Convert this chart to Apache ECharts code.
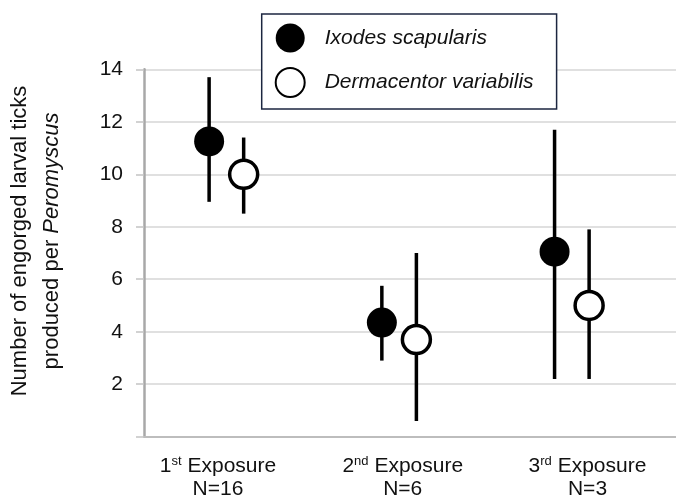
<!DOCTYPE html>
<html>
<head>
<meta charset="utf-8">
<script src="https://cdn.jsdelivr.net/npm/echarts@6/dist/echarts.min.js"></script>
<style>
  html, body { margin: 0; padding: 0; background: #fff; }
  #chart { width: 676px; height: 499px; }
</style>
</head>
<body>
<div id="chart"></div>
<script>
// exposure groups
var exposures = ['1{sup|st} Exposure\nN=16', '2{sup|nd} Exposure\nN=6', '3{sup|rd} Exposure\nN=3'];
var groupPos = [1, 2, 3];
var offset = 0.1;

// Ixodes scapularis
var ixodesMean = [11.25, 4.35, 7.05];
var ixodesLow = [8.95, 2.9, 2.2];
var ixodesHigh = [13.7, 5.75, 11.7];

// Dermacentor variabilis
var dermaMean = [10.0, 3.7, 5.0];
var dermaLow = [8.5, 0.6, 2.2];
var dermaHigh = [11.4, 7.0, 7.9];

var font = 'Liberation Sans, Arial, sans-serif';

function points(mean, shift) {
  return mean.map(function (v, i) { return [groupPos[i] + shift, v]; });
}
function bars(low, high, shift) {
  return low.map(function (v, i) { return [groupPos[i] + shift, v, high[i]]; });
}

function renderBar(params, api) {
  var x = api.value(0);
  var lo = api.coord([x, api.value(1)]);
  var hi = api.coord([x, api.value(2)]);
  return {
    type: 'line',
    shape: { x1: lo[0], y1: lo[1], x2: hi[0], y2: hi[1] },
    style: { stroke: '#000', lineWidth: 3.5 }
  };
}

var chart = echarts.init(document.getElementById('chart'));
chart.setOption({
  animation: false,
  textStyle: { fontFamily: font },
  grid: { left: 144, right: 0, top: 69.3, bottom: 62.3, containLabel: false, outerBoundsMode: 'none' },
  legend: {
    data: ['Ixodes scapularis', 'Dermacentor variabilis'],
    orient: 'vertical',
    left: 261.7,
    top: 14,
    padding: [9.5, 23, 11, 13],
    itemGap: 14.5,
    itemWidth: 29,
    itemHeight: 29,
    backgroundColor: '#fff',
    borderColor: '#1c2640',
    borderWidth: 1.5,
    textStyle: {
      fontSize: 21,
      fontStyle: 'italic',
      color: '#111',
      fontFamily: font,
      padding: [0, 0, 0, 15]
    }
  },
  xAxis: [
    {
      type: 'value',
      min: 0.523,
      max: 3.603,
      axisLine: { show: true, onZero: false, lineStyle: { color: '#bdbdbd', width: 2 } },
      axisTick: { show: false },
      axisLabel: { show: false },
      splitLine: { show: false }
    },
    {
      type: 'value',
      position: 'bottom',
      min: 0.5995,
      max: 3.479,
      axisLine: { show: false },
      axisTick: { show: false },
      splitLine: { show: false },
      axisLabel: {
        customValues: groupPos,
        margin: 18,
        fontSize: 21,
        lineHeight: 23,
        color: '#111',
        fontFamily: font,
        formatter: function (v) { return exposures[Math.round(v) - 1]; },
        rich: {
          sup: { fontSize: 13, verticalAlign: 'top', lineHeight: 19, color: '#111', fontFamily: font }
        }
      }
    }
  ],
  yAxis: {
    type: 'value',
    min: 0,
    max: 14,
    interval: 2,
    axisLine: { show: true, lineStyle: { color: '#a8a8a8', width: 2.5 } },
    axisTick: { show: true, length: 8, lineStyle: { color: '#c4c4c4', width: 1.5 } },
    splitLine: { show: true, lineStyle: { color: '#d6d6d6', width: 1.5 } },
    axisLabel: {
      margin: 21,
      fontSize: 21,
      color: '#111',
      fontFamily: font,
      formatter: function (v) { return v === 0 ? '' : String(v); }
    },
    name: 'Number of engorged larval ticks\nproduced per {i|Peromyscus}',
    nameLocation: 'middle',
    nameRotate: 90,
    nameGap: 76,
    nameTextStyle: {
      fontSize: 22,
      lineHeight: 32,
      color: '#111',
      fontFamily: font,
      padding: [0, 0, 0, 24],
      rich: {
        i: { fontSize: 22, lineHeight: 32, fontStyle: 'italic', color: '#111', fontFamily: font }
      }
    }
  },
  series: [
    {
      type: 'custom',
      xAxisIndex: 0,
      renderItem: renderBar,
      encode: { x: 0, y: [1, 2] },
      data: bars(ixodesLow, ixodesHigh, -offset),
      z: 1
    },
    {
      type: 'custom',
      xAxisIndex: 0,
      renderItem: renderBar,
      encode: { x: 0, y: [1, 2] },
      data: bars(dermaLow, dermaHigh, offset),
      z: 1
    },
    {
      name: 'Ixodes scapularis',
      type: 'scatter',
      xAxisIndex: 0,
      symbol: 'circle',
      symbolSize: 30,
      itemStyle: { color: '#000', opacity: 1 },
      data: points(ixodesMean, -offset),
      z: 3
    },
    {
      name: 'Dermacentor variabilis',
      type: 'scatter',
      xAxisIndex: 0,
      symbol: 'circle',
      symbolSize: 28,
      itemStyle: { color: '#fff', borderColor: '#000', borderWidth: 3.5, opacity: 1 },
      data: points(dermaMean, offset),
      z: 3
    }
  ]
});
</script>
</body>
</html>
